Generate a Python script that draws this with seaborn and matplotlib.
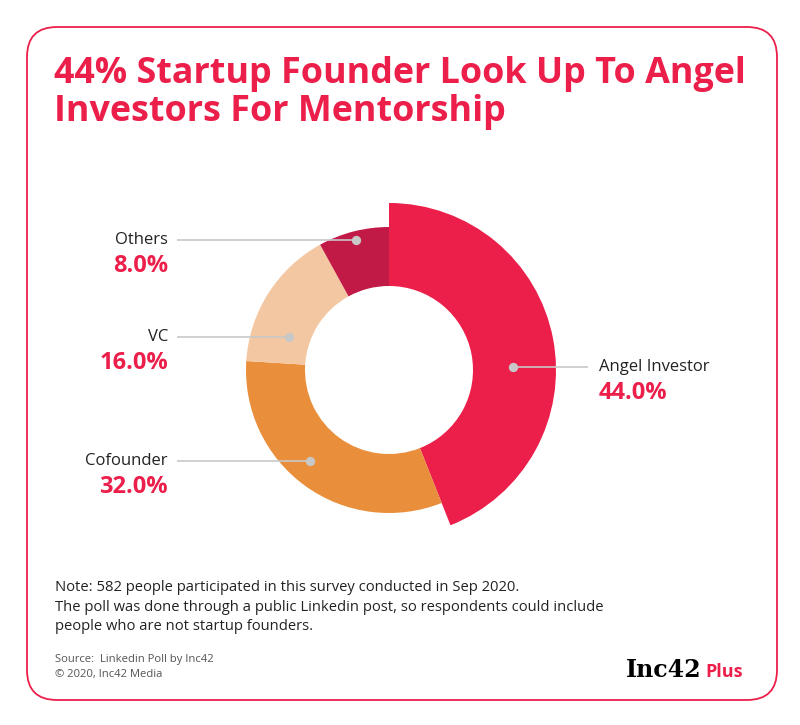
import matplotlib
matplotlib.use("Agg")
import matplotlib.pyplot as plt
import seaborn as sns
from matplotlib.patches import FancyBboxPatch
import numpy as np

sns.set_theme(style="white")
plt.rcParams['font.family'] = ['Open Sans', 'DejaVu Sans']

# ---- data ----
categories = ["Angel Investor", "Cofounder", "VC", "Others"]
shares = [44.0, 32.0, 16.0, 8.0]
colors = ["#EC1F4B", "#E98E3A", "#F4C7A3", "#C21A47"]
title = "44% Startup Founder Look Up To Angel\nInvestors For Mentorship"
note = ("Note: 582 people participated in this survey conducted in Sep 2020.\n"
        "The poll was done through a public Linkedin post, so respondents could include\n"
        "people who are not startup founders.")
source = "Source:  Linkedin Poll by Inc42\n\u00a9 2020, Inc42 Media"

RED = "#EC1F4B"
W, H = 800, 725
fig = plt.figure(figsize=(8, 7.25), dpi=100)
ax = fig.add_axes([0, 0, 1, 1])

def Y(y):
    return H - y

# donut geometry (pixels)
cx, cy = 389, Y(370)
r_in, r_out, r_big = 84, 143, 167

wedges, _ = ax.pie(shares, colors=colors, startangle=90, counterclock=False,
                   radius=r_out, center=(cx, cy),
                   wedgeprops=dict(width=r_out - r_in, linewidth=0))
wedges[0].set_radius(r_big)
wedges[0].set_width(r_big - r_in)

ax.set_xlim(0, W)
ax.set_ylim(0, H)
ax.set_aspect('auto')
ax.axis('off')

# border
box = FancyBboxPatch((27, Y(700)), 750, 673, boxstyle="round,pad=0,rounding_size=30",
                     fill=False, edgecolor=RED, linewidth=1.3, transform=ax.transData)
ax.add_patch(box)

# title
ax.text(54, Y(56), title, color=RED, fontsize=25.8, fontweight='bold',
        ha='left', va='top', linespacing=1.08)

# label layout: (dot angle deg, dot radius, label x, side)
layout = {
    "Others": (104.2, 134, 168, 'left'),
    "VC": (161.7, 105, 168, 'left'),
    "Cofounder": (-130.9, 121, 168, 'left'),
    "Angel Investor": (1.5, 124, 599, 'right'),
}
grey = "#C8C8C8"
for cat, val in zip(categories, shares):
    ang, rd, lx, side = layout[cat]
    dx = cx + rd * np.cos(np.radians(ang))
    dy = cy + rd * np.sin(np.radians(ang))
    if side == 'left':
        ax.plot([lx + 9, dx], [dy, dy], color=grey, lw=1.2, solid_capstyle='butt')
        ha = 'right'
    else:
        ax.plot([dx, lx - 11], [dy, dy], color=grey, lw=1.2, solid_capstyle='butt')
        ha = 'left'
    ax.scatter([dx], [dy], s=45, color=grey, zorder=5, linewidths=0)
    ax.text(lx, dy, cat, ha=ha, va='center', fontsize=12, color="#222222")
    ax.text(lx, dy - 26, f"{val:.1f}%", ha=ha, va='center', fontsize=17,
            fontweight='bold', color=RED)

# note and source
ax.text(55, Y(580), note, ha='left', va='top', fontsize=10.6, color="#222222",
        linespacing=1.42)
ax.text(55, Y(654), source, ha='left', va='top', fontsize=8.1, color="#555555",
        linespacing=1.5)

# logo
ax.text(626, Y(677), "Inc42", ha='left', va='baseline', fontsize=17,
        fontweight='bold', family='DejaVu Serif', color='black')
ax.text(705, Y(677), "Plus", ha='left', va='baseline', fontsize=13,
        fontweight='bold', color=RED)

fig.savefig("out.png", dpi=100, facecolor='white')
